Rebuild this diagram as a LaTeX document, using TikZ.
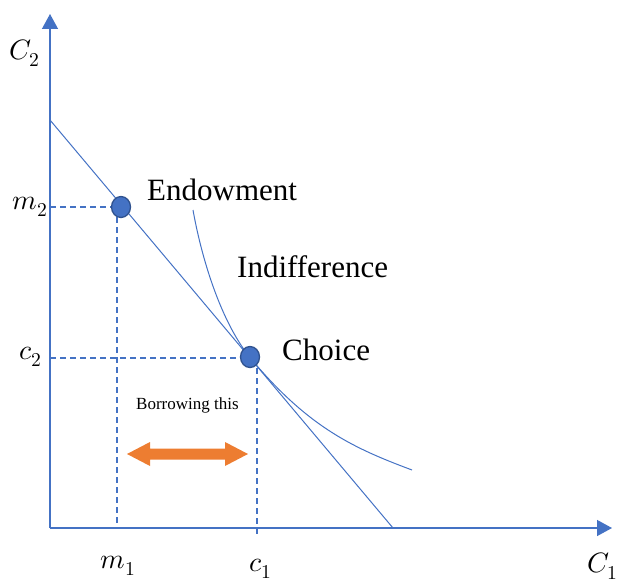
\documentclass[tikz,border=0pt]{standalone}
\usepackage{fontspec}
\usepackage{unicode-math}
\setmainfont{Liberation Serif}
\setmathfont{Latin Modern Math}
\usetikzlibrary{arrows.meta,shapes.geometric}
\definecolor{obl}{HTML}{4472C4}
\definecolor{obd}{HTML}{2F528F}
\definecolor{oor}{HTML}{ED7D31}
\begin{document}
\begin{tikzpicture}[x=1pt,y=-1pt,
  axis/.style={draw=obl,line width=1.3pt,-{Triangle[length=15pt,width=16pt]}},
  thin/.style={draw=obl,line width=1pt},
  dsh/.style={draw=obl,line width=1.3pt,dash pattern=on 6pt off 4pt},
  dot/.style={ellipse,draw=obd,fill=obl,line width=1.3pt,minimum width=19pt,minimum height=21pt,inner sep=0pt},
  big/.style={font=\fontsize{31}{36}\selectfont,inner sep=0pt,anchor=base west},
  lab/.style={font=\fontsize{28}{33}\selectfont,inner sep=0pt}]
\useasboundingbox (0,0) rectangle (617,583);
% axes
\coordinate (O) at (50,528);
\coordinate (Ytip) at (50,14);
\coordinate (Xtip) at (612,528);
\draw[axis] (O) -- (Ytip);
\draw[axis] (O) -- (Xtip);
% budget line
\coordinate (B0) at (50,120);
\coordinate (B1) at (393,528);
\draw[thin] (B0) -- (B1);
% indifference curve
\coordinate (IA) at (193,210);
\coordinate (IT) at (252,360);
\coordinate (IE) at (412,470);
\draw[thin] (IA) .. controls (201,255) and (220,322) .. (IT)
  .. controls (310,429) and (356,449) .. (IE);
% dashed guides
\coordinate (m2L) at (50,207);
\coordinate (c2L) at (50,358);
\coordinate (m1B) at (117,528);
\coordinate (m1T) at (117,207);
\coordinate (c1T) at (257,358);
\coordinate (c1B) at (257,537);
\draw[dsh] (m2L) -- (121,207);
\draw[dsh] (m1T) -- (m1B);
\draw[dsh] (c2L) -- (250,358);
\draw[dsh] (c1T) -- (c1B);
% dots
\node[dot] (endow) at (121,207) {};
\node[dot] (choice) at (250,357) {};
% texts
\node[big] (tE) at (147,200) {Endowment};
\node[big] (tI) at (237,277) {Indifference};
\node[big] (tC) at (282,360) {Choice};
\node[font=\fontsize{17}{20}\selectfont,inner sep=0pt,anchor=base west] (tB) at (136,409) {Borrowing this};
% axis labels
\node[lab] (lC2) at (25,53) {$C_2$};
\node[lab] (lm2) at (30,207) {$m_2$};
\node[lab] (lc2) at (31,357) {$c_2$};
\node[lab] (lm1) at (118,566) {$m_1$};
\node[lab] (lc1) at (261,569) {$c_1$};
\node[lab] (lC1) at (603,566) {$C_1$};
% orange double arrow
\fill[oor] (127,454) -- (150,442) -- (150,448.5) -- (225,448.5) -- (225,442) -- (248,454)
  -- (225,466) -- (225,459.5) -- (150,459.5) -- (150,466) -- cycle;
\end{tikzpicture}
\end{document}
